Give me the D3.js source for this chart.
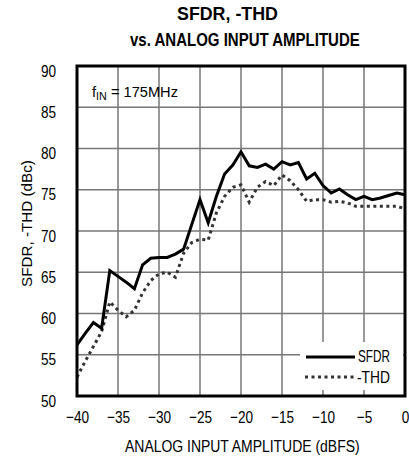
<!DOCTYPE html>
<html><head><meta charset="utf-8">
<script src="https://cdn.jsdelivr.net/npm/d3@7"></script>
<style>
body{margin:0;background:#fff;}
text{font-family:"Liberation Sans",Arial,sans-serif;}
</style></head>
<body>
<svg id="c" width="409" height="458"></svg>
<script>
const amplitude = d3.range(-40, 1, 1);
const sfdr = [56.2,57.6,58.9,58.2,65.2,64.5,63.8,63.0,65.9,66.7,66.8,66.8,67.2,67.8,70.8,73.8,71.0,74.2,76.9,78.0,79.6,77.9,77.7,78.1,77.5,78.4,78.0,78.3,76.3,77.0,75.5,74.6,75.1,74.4,73.8,74.2,73.8,74.0,74.3,74.6,74.4];
const thd = [52.3,54.2,56.0,57.8,61.4,60.4,59.6,60.4,62.5,64.0,64.8,65.0,64.4,67.3,68.6,69.0,68.9,72.2,74.2,75.3,75.6,73.5,75.3,76.0,75.5,76.8,76.1,75.0,73.6,73.8,73.8,73.5,73.6,73.4,73.0,73.0,73.0,73.0,73.0,73.0,72.7];
const xTicks = [-40,-35,-30,-25,-20,-15,-10,-5,0];
const yTicks = [50,55,60,65,70,75,80,85,90];
const seriesNames = ["SFDR","-THD"];

const svg = d3.select("#c");
const L=77, R=405, T=66, B=396;
const x = d3.scaleLinear().domain([-40,0]).range([L,R]);
const y = d3.scaleLinear().domain([50,90]).range([B,T]);
const SX = 0.8;

// text placed at (px,py) baseline-left, horizontally scaled to target width
function txt(px, py, s, fs, len, weight, rot){
  const t = svg.append("text").attr("font-size",fs)
    .attr("font-weight",weight||"normal").text(s);
  const w = t.node().getComputedTextLength();
  const k = len ? len/w : 1;
  t.attr("transform",`translate(${px},${py})${rot?" rotate(-90)":""} scale(${k},1)`);
  return t;
}

// grid
const g = svg.append("g");
g.selectAll(".vx").data(xTicks).enter().append("line")
  .attr("x1",d=>x(d)).attr("x2",d=>x(d)).attr("y1",T).attr("y2",B)
  .attr("stroke","#777").attr("stroke-width",1.5);
g.selectAll(".hy").data(yTicks).enter().append("line")
  .attr("x1",L).attr("x2",R).attr("y1",d=>y(d)).attr("y2",d=>y(d))
  .attr("stroke","#777").attr("stroke-width",1.5);

// axes (labels only)
const xa = svg.append("g").attr("transform",`translate(0,${B})`)
  .call(d3.axisBottom(x).tickValues(xTicks).tickSize(0).tickFormat(d3.format("d")));
xa.select(".domain").remove();
xa.selectAll("text").attr("font-size",17).attr("fill","#000")
  .attr("y",0).attr("dy",null).attr("transform",`translate(0,27) scale(${SX},1)`);
const ya = svg.append("g").attr("transform",`translate(${L},0)`)
  .call(d3.axisLeft(y).tickValues(yTicks).tickSize(0).tickFormat(d3.format("d")));
ya.select(".domain").remove();
ya.selectAll("text").attr("font-size",17).attr("fill","#000")
  .attr("x",0).attr("dy",null).attr("y",0).attr("transform",`translate(-21,10) scale(${SX},1)`);

// legend background
svg.append("rect").attr("x",300).attr("y",342).attr("width",103).attr("height",48).attr("fill","#fff");

// lines
const line = d3.line().x((d,i)=>x(amplitude[i])).y(d=>y(d));
svg.append("path").datum(thd).attr("d",line).attr("fill","none")
  .attr("stroke","#333").attr("stroke-width",3).attr("stroke-dasharray","3,3.5");
svg.append("path").datum(sfdr).attr("d",line).attr("fill","none")
  .attr("stroke","#000").attr("stroke-width",3).attr("stroke-linejoin","miter");

// border
svg.append("rect").attr("x",L).attr("y",T).attr("width",R-L).attr("height",B-T)
  .attr("fill","none").attr("stroke","#000").attr("stroke-width",3);

// legend
svg.append("line").attr("x1",306).attr("x2",355).attr("y1",357).attr("y2",357)
  .attr("stroke","#000").attr("stroke-width",3);
svg.append("line").attr("x1",305).attr("x2",355).attr("y1",377).attr("y2",377)
  .attr("stroke","#333").attr("stroke-width",3).attr("stroke-dasharray","3,3.5");
txt(358,362,seriesNames[0],16,32);
txt(357,383,seriesNames[1],16,33);

// annotation
const ann = svg.append("text").attr("font-size",15);
ann.append("tspan").text("f");
ann.append("tspan").attr("font-size",11).attr("dy",3).text("IN");
ann.append("tspan").attr("dy",-3).text(" = 175MHz");
const aw = ann.node().getComputedTextLength();
ann.attr("transform",`translate(92,97) scale(${86/aw},1)`);

// titles
txt(177,20,"SFDR, -THD",19,101,"bold");
txt(130,46,"vs. ANALOG INPUT AMPLITUDE",19,230,"bold");
txt(125,452,"ANALOG INPUT AMPLITUDE (dBFS)",16.5,235);
txt(32,287,"SFDR, -THD (dBc)",15.5,127,null,true);
</script>
</body></html>
